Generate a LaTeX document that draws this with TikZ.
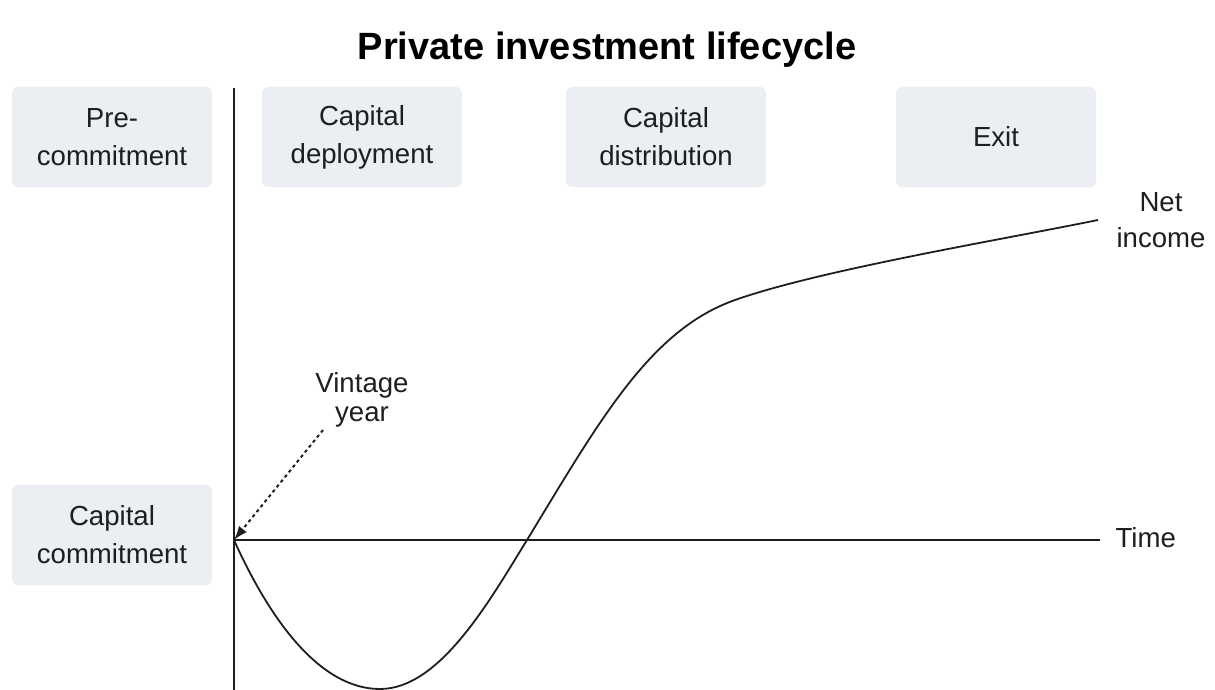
\documentclass[tikz,border=0pt]{standalone}
\usepackage{fontspec}
\setmainfont{Liberation Sans}
\usetikzlibrary{positioning,arrows.meta}

\definecolor{phasefill}{HTML}{EBEEF2}
\definecolor{ink}{HTML}{1E1E1E}

\tikzset{
	phase/.style={fill=phasefill,rounded corners=3pt,minimum width=100pt,minimum height=50pt,
		align=center,text=ink,font=\fontsize{13.8}{19}\selectfont},
	label/.style={align=center,text=ink,font=\fontsize{13.8}{14.5}\selectfont},
}

\def\phase#1#2#3{
	\node[phase] (#1) at #2 {#3};
}

\begin{document}
\begin{tikzpicture}[x=0.5pt,y=-0.5pt,>=latex,line width=0.9pt]
\useasboundingbox (0,0) rectangle (1215,690);
\node[font=\fontsize{19}{22}\bfseries\selectfont] (title) at (607,50) {Private investment lifecycle};
% phases along the top
\phase{pre}{(112,137)}{Pre-\\commitment}
\phase{deploy}{(362,137)}{Capital\\deployment}
\phase{distrib}{(666,137)}{Capital\\distribution}
\phase{exit}{(996,137)}{Exit}
\phase{commit}{(112,535)}{Capital\\commitment}
% axes
\coordinate (O) at (234,540);
\coordinate (T) at (234,88);
\coordinate (B) at (234,690);
\coordinate (E) at (1100,540);
\draw[ink] (T) -- (B);
\draw[ink] (O) -- (E);
\node[label,anchor=west] (time) at (1108,538) {Time};
% net income curve
\coordinate (low) at (380,689);
\coordinate (cross) at (527,540);
\coordinate (knee) at (735,300);
\coordinate (tip) at (1098,220);
\draw[ink] (O) .. controls (270,620) and (320,689) .. (low)
	.. controls (440,689) and (490,600) .. (cross)
	.. controls (600,420) and (650,330) .. (knee)
	.. controls (820,270) and (1000,240) .. (tip);
\node[label,font=\fontsize{13.8}{18}\selectfont] (net) at (1161,220) {Net\\income};
% vintage year
\node[label] (vintage) at (362,400) {Vintage\\year};
\coordinate (vstart) at (323,430);
\draw[-{Latex[length=7pt,width=5pt]},ink,dash pattern=on 1.6pt off 1.6pt,line width=1pt] (vstart) -- (O);
\end{tikzpicture}
\end{document}
